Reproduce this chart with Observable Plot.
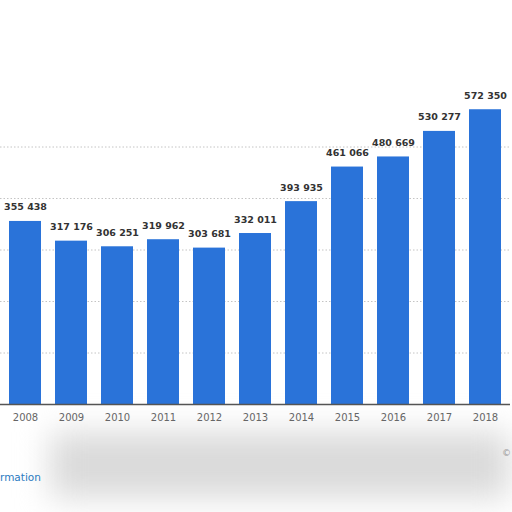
<!DOCTYPE html>
<html>
<head>
<meta charset="utf-8">
<script src="https://cdn.jsdelivr.net/npm/d3@7"></script>
<script src="https://cdn.jsdelivr.net/npm/@observablehq/plot@0.6"></script>
<style>
  html, body { margin: 0; padding: 0; background: #ffffff; width: 512px; height: 512px; overflow: hidden; position: relative; }
  #shade { position: absolute; left: 50px; top: 432px; width: 460px; height: 66px; background: #dadada; filter: blur(16px); }
  #chart { position: absolute; left: 0; top: 0; }
  #info { position: absolute; left: 0; top: 471px; font: 10.5px "DejaVu Sans", sans-serif; color: #2b7bbf; }
  #copy { position: absolute; left: 502px; top: 448px; font: 9px "DejaVu Sans", sans-serif; color: #999; }
</style>
</head>
<body>
<div id="shade"></div>
<div id="chart"></div>
<div id="info">rmation</div>
<div id="copy">©</div>
<script>
const years = ["2008","2009","2010","2011","2012","2013","2014","2015","2016","2017","2018"];
const values = [355438, 317176, 306251, 319962, 303681, 332011, 393935, 461066, 480669, 530277, 572350];
const gridTicks = [100000, 200000, 300000, 400000, 500000];

const data = years.map((y, i) => ({year: y, value: values[i]}));
const fmt = v => d3.format(",")(v).replace(/,/g, " ");

const chart = Plot.plot({
  width: 512,
  height: 512,
  marginLeft: 0,
  marginRight: 2,
  marginTop: 95,
  marginBottom: 108,
  style: {background: "transparent", fontFamily: "DejaVu Sans, sans-serif"},
  x: {domain: years, paddingInner: 0.31, paddingOuter: 0.155, label: null},
  y: {domain: [0, 600000], axis: null},
  marks: [
    Plot.gridY(gridTicks, {stroke: "#c4c4c4", strokeOpacity: 1, strokeDasharray: "1.5,2"}),
    Plot.barY(data, {x: "year", y: "value", fill: "#2a73d9"}),
    Plot.ruleY([0], {stroke: "#555555", strokeWidth: 1.5}),
    Plot.text(data, {x: "year", y: "value", text: d => fmt(d.value), dy: -14, fontSize: 9.5, fontWeight: "bold", fill: "#333333"}),
    Plot.axisX({tickSize: 0, tickPadding: 9, fontSize: 10, fill: "#666666", label: null})
  ]
});
document.getElementById("chart").appendChild(chart);
</script>
</body>
</html>
